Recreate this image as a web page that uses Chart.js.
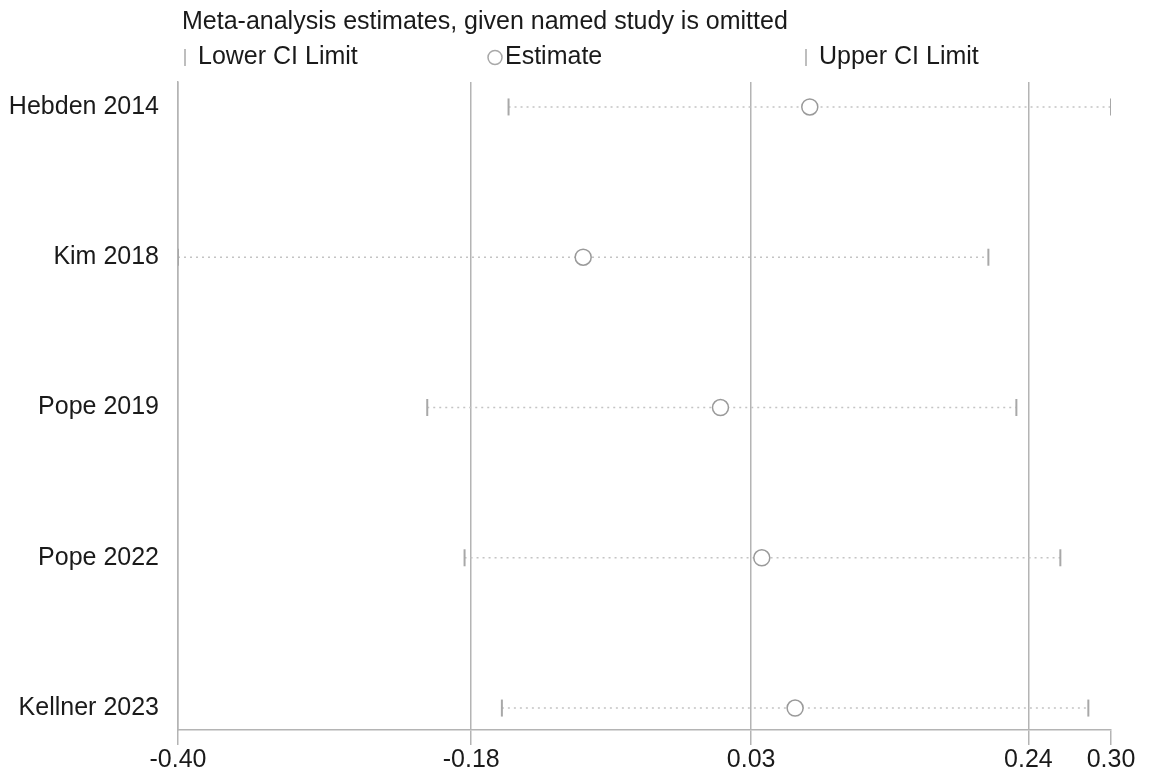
<!DOCTYPE html>
<html>
<head>
<meta charset="utf-8">
<title>Meta-analysis estimates, given named study is omitted</title>
<script src="https://cdn.jsdelivr.net/npm/chart.js@4.4.1/dist/chart.umd.min.js"></script>
<style>
  body { margin: 0; background: #fff; }
  #wrap { width: 1153px; height: 771px; }
</style>
</head>
<body>
<div id="wrap"><canvas id="chart"></canvas></div>
<script>
// Studies (top to bottom) and their leave-one-out estimates
const studies = ["Hebden 2014", "Kim 2018", "Pope 2019", "Pope 2022", "Kellner 2023"];
const lowerCI = [-0.152, -0.400, -0.213, -0.185, -0.157];
const estimates = [0.074, -0.096, 0.007, 0.038, 0.063];
const upperCI = [0.300, 0.208, 0.229, 0.262, 0.283];

// x axis ticks (min lower, overall lower, overall estimate, overall upper, max upper)
const xTicks = [-0.40, -0.18, 0.03, 0.238, 0.30];

const FONT = "'Liberation Sans', Arial, sans-serif";
const TEXT = "#1a1a1a";
const GRID = "#b4b4b4";
const MARK = "#a8a8a8";

// One dotted line per study from lower to upper limit
const ciLines = studies.map((s, i) => ({
  type: "line",
  data: [{ x: lowerCI[i], y: i + 1 }, { x: upperCI[i], y: i + 1 }],
  borderColor: "#c4c4c4",
  borderWidth: 1.5,
  borderDash: [2, 4],
  pointRadius: 0,
  order: 3
}));

const limitStyle = {
  pointStyle: "line",
  rotation: 90,
  pointRadius: 8.5,
  borderColor: MARK,
  borderWidth: 2,
  order: 1
};

// Draws the title and legend row above the plot
const legendPlugin = {
  id: "topLegend",
  afterDraw(chart) {
    const ctx = chart.ctx;
    ctx.save();
    ctx.fillStyle = TEXT;
    ctx.font = "25px " + FONT;
    ctx.textBaseline = "middle";
    ctx.textAlign = "left";
    ctx.fillText("Meta-analysis estimates, given named study is omitted", 182, 22);

    ctx.strokeStyle = MARK;
    ctx.lineWidth = 1.5;
    // lower limit marker
    ctx.beginPath(); ctx.moveTo(185, 49); ctx.lineTo(185, 66); ctx.stroke();
    ctx.fillText("Lower CI Limit", 198, 57);
    // estimate marker
    ctx.beginPath(); ctx.arc(495, 57.5, 7, 0, Math.PI * 2); ctx.stroke();
    ctx.fillText("Estimate", 505, 57);
    // upper limit marker
    ctx.beginPath(); ctx.moveTo(806, 49); ctx.lineTo(806, 66); ctx.stroke();
    ctx.fillText("Upper CI Limit", 819, 57);
    ctx.restore();
  }
};

new Chart(document.getElementById("chart"), {
  type: "scatter",
  data: {
    datasets: [
      ...ciLines,
      { label: "Lower CI Limit", data: lowerCI.map((v, i) => ({ x: v, y: i + 1 })), ...limitStyle },
      { label: "Upper CI Limit", data: upperCI.map((v, i) => ({ x: v, y: i + 1 })), ...limitStyle },
      {
        label: "Estimate",
        data: estimates.map((v, i) => ({ x: v, y: i + 1 })),
        pointStyle: "circle",
        pointRadius: 8,
        backgroundColor: "#fff",
        borderColor: "#9a9a9a",
        borderWidth: 1.5,
        order: 0
      }
    ]
  },
  options: {
    responsive: true,
    maintainAspectRatio: false,
    animation: false,
    layout: { padding: { top: 82, right: 42, left: 0, bottom: 0 } },
    plugins: { legend: { display: false }, tooltip: { enabled: false } },
    scales: {
      x: {
        type: "linear",
        min: -0.40,
        max: 0.30,
        afterBuildTicks: s => { s.ticks = xTicks.map(v => ({ value: v })); },
        afterFit: s => { s.height = 41; },
        border: { display: true, color: GRID, width: 1.5 },
        grid: {
          color: c => (c.index === xTicks.length - 1 ? "transparent" : GRID),
          tickColor: GRID,
          lineWidth: 1.5,
          drawTicks: true,
          tickLength: 15
        },
        ticks: {
          color: TEXT,
          font: { family: FONT, size: 25 },
          padding: 0,
          maxRotation: 0,
          autoSkip: false,
          callback: v => v.toFixed(2)
        }
      },
      y: {
        type: "linear",
        reverse: true,
        min: 0.834,
        max: 5.146,
        afterBuildTicks: s => { s.ticks = studies.map((n, i) => ({ value: i + 1 })); },
        afterFit: s => { s.width = 178; },
        border: { display: true, color: GRID, width: 1.5 },
        grid: { display: false },
        ticks: {
          color: TEXT,
          font: { family: FONT, size: 25 },
          padding: 11,
          autoSkip: false,
          callback: v => studies[v - 1] || ""
        }
      }
    }
  },
  plugins: [legendPlugin]
});
</script>
</body>
</html>
